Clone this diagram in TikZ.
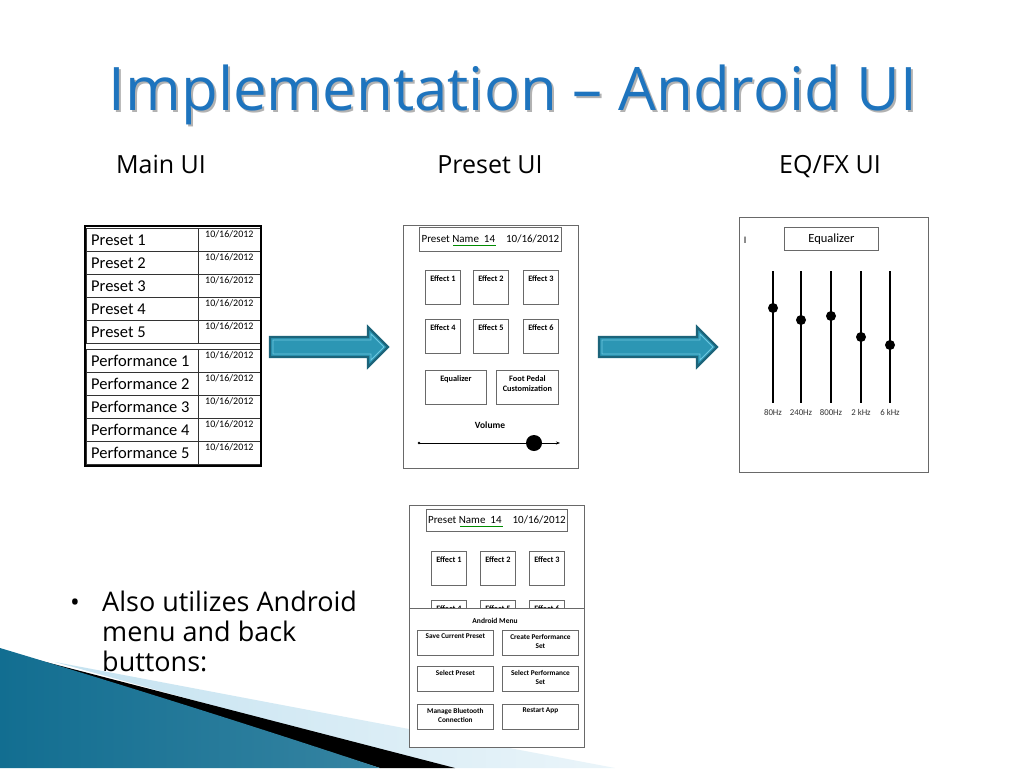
\documentclass[tikz,border=0pt]{standalone}
\usepackage{fontspec}
\setmainfont{Open Sans}
\newfontfamily\calfont{Carlito}
\usetikzlibrary{arrows.meta}
\definecolor{titleblue}{RGB}{30,116,190}
\definecolor{arrowdark}{RGB}{28,100,122}
\definecolor{arrowfill}{RGB}{44,150,180}
\definecolor{arrowlight}{RGB}{110,200,225}
\definecolor{tealdark}{RGB}{18,110,145}
\definecolor{teallight}{RGB}{80,182,218}
\definecolor{paleblue}{RGB}{196,226,240}
\definecolor{uigray}{RGB}{105,105,105}
\tikzset{
  namecell/.style={draw=black!80, line width=0.7, anchor=north west, minimum width=112, minimum height=23, inner sep=0},
  nametext/.style={anchor=west, inner sep=0, xshift=5, font=\calfont\fontsize{16.5}{16.5}\selectfont},
  datecell/.style={draw=black!80, line width=0.7, anchor=north west, minimum width=62, minimum height=23, inner sep=0},
  datetext/.style={anchor=north, inner sep=0, yshift=-2, font=\calfont\fontsize{10}{10}\selectfont},
  panel/.style={draw=uigray, line width=0.9, anchor=north west, inner sep=0},
  uibox/.style={draw=uigray, line width=0.8, anchor=north west, inner sep=0},
  effbox/.style={uibox, minimum width=35, minimum height=34},
  blabel/.style={anchor=north, inner sep=0, yshift=-5, align=center, font=\calfont\bfseries\fontsize{8.3}{10}\selectfont},
  mlabel/.style={anchor=north, inner sep=0, yshift=-4, align=center, font=\calfont\bfseries\fontsize{7.3}{9.5}\selectfont},
  menubtn/.style={uibox, minimum width=76, minimum height=25},
  knob/.style={circle, fill=black, inner sep=0, minimum size=10},
  hzlabel/.style={anchor=base, inner sep=0, text=black!80, font=\calfont\fontsize{8.8}{9}\selectfont},
  subhead/.style={anchor=base, inner sep=0, font=\fontsize{25}{25}\selectfont},
  bullettext/.style={anchor=base west, inner sep=0, font=\fontsize{27}{30}\selectfont},
  bigarrow/.style={fill=arrowfill, draw=arrowdark, line width=2.2, line join=miter},
  innerarrow/.style={draw=arrowlight, line width=0.8, line join=miter}
}
\begin{document}
\begin{tikzpicture}[x=1pt,y=-1pt]
\useasboundingbox (0,0) rectangle (1024,768);
\fill[white] (0,0) rectangle (1024,768);

% bottom-left decoration
\shade[left color=paleblue, right color=paleblue!35] (55,662) -- (615,768) -- (440,768) -- cycle;
\fill[black] (38,660) -- (455,768) -- (380,768) -- cycle;
\shade[left color=tealdark, middle color=teallight, right color=tealdark!85] (0,648) .. controls (120,684) and (260,728) .. (380,768) -- (0,768) -- cycle;

% title
\node[anchor=base, inner sep=0, text=black!30, font=\fontsize{60}{60}\selectfont] at (515,112) {Implementation – Android UI};
\node[anchor=base, inner sep=0, text=titleblue, font=\fontsize{60}{60}\selectfont] (title) at (513,110) {Implementation – Android UI};

% subheadings
\node[subhead] (hmain) at (161,173) {Main UI};
\node[subhead] (hpreset) at (490,173) {Preset UI};
\node[subhead] (heq) at (830,173) {EQ/FX UI};

% Main UI table
\foreach \i/\t in {1/228,2/251,3/274,4/297,5/320}{
  \node[namecell] (pre\i) at (86,\t) {};
  \node[nametext] at (pre\i.west) {Preset \i};
  \node[datecell] (pred\i) at (198,\t) {};
  \node[datetext] at (pred\i.north) {10/16/2012};
}
\foreach \i/\t in {1/349,2/372,3/395,4/418,5/441}{
  \node[namecell] (perf\i) at (86,\t) {};
  \node[nametext] at (perf\i.west) {Performance \i};
  \node[datecell] (perfd\i) at (198,\t) {};
  \node[datetext] at (perfd\i.north) {10/16/2012};
}
\draw[line width=2.2] (85,226) rectangle (261,466);

% arrows
\draw[bigarrow] (270,337) -- (368,337) -- (368,327) -- (388,347) -- (368,367) -- (368,357) -- (270,357) -- cycle;
\draw[innerarrow] (273,340) -- (371,340) -- (371,334) -- (384,347) -- (371,360) -- (371,354) -- (273,354) -- cycle;
\draw[bigarrow] (599,337) -- (697,337) -- (697,327) -- (717,347) -- (697,367) -- (697,357) -- (599,357) -- cycle;
\draw[innerarrow] (602,340) -- (700,340) -- (700,334) -- (713,347) -- (700,360) -- (700,354) -- (602,354) -- cycle;

% Preset UI
\node[panel, minimum width=175, minimum height=243] (pui) at (403,225) {};
\node[uibox, minimum width=142, minimum height=24, font=\calfont\fontsize{11}{11}\selectfont] (phdr) at (419,227) {Preset Name\ \ 14\quad 10/16/2012};
\draw[green!55!black, line width=0.6] (453,245) -- (496,245);
\foreach \n/\x/\y in {1/425/270,2/473/270,3/523/270,4/425/319,5/473/319,6/523/319}{
  \node[effbox] (pe\n) at (\x,\y) {};
  \node[blabel] at (pe\n.north) {Effect \n};
}
\node[uibox, minimum width=61, minimum height=34] (peq) at (425,370) {};
\node[blabel] at (peq.north) {Equalizer};
\node[uibox, minimum width=62, minimum height=34] (pfoot) at (496,370) {};
\node[blabel] at (pfoot.north) {Foot Pedal\\Customization};
\node[anchor=center, inner sep=0, font=\calfont\bfseries\fontsize{9.5}{10}\selectfont] (vol) at (490,425) {Volume};
\coordinate (vl) at (419,443);
\coordinate (vr) at (560,443);
\draw[line width=0.8, -{Stealth[length=4,width=3]}] (vl) -- (vr);
\fill (vl) circle (1.3);
\node[knob, minimum size=16] (vknob) at (534,443) {};

% EQ/FX UI
\node[panel, minimum width=189, minimum height=255] (eqp) at (739,217) {};
\node[anchor=center, inner sep=0, font=\calfont\fontsize{10}{10}\selectfont] (cursor) at (745,240) {I};
\node[uibox, minimum width=94, minimum height=23, font=\calfont\fontsize{12.5}{12.5}\selectfont] (eqh) at (784,227) {Equalizer};
\foreach \n/\x/\k/\lab in {1/773/308/80Hz,2/801/320/240Hz,3/831/316/800Hz,4/861/337/2 kHz,5/890/345/6 kHz}{
  \coordinate (st\n) at (\x,271);
  \coordinate (sb\n) at (\x,403);
  \draw[line width=1.3] (st\n) -- (sb\n);
  \node[knob] (k\n) at (\x,\k) {};
  \node[hzlabel] (hz\n) at (\x,415) {\lab};
}

% Preset UI with Android menu
\node[panel, minimum width=175, minimum height=242] (mp) at (409,505) {};
\node[uibox, minimum width=141, minimum height=22, font=\calfont\fontsize{11}{11}\selectfont] (mhdr) at (426,509) {Preset Name\ \ 14\quad 10/16/2012};
\draw[green!55!black, line width=0.6] (460,526) -- (503,526);
\foreach \n/\x/\y in {1/431/551,2/480/551,3/529/551,4/431/600,5/480/600,6/529/600}{
  \node[effbox] (me\n) at (\x,\y) {};
  \node[blabel] at (me\n.north) {Effect \n};
}
\node[panel, fill=white, minimum width=175, minimum height=139] (menu) at (409,608) {};
\node[anchor=center, inner sep=0, font=\calfont\bfseries\fontsize{7.5}{8}\selectfont] (mtitle) at (495,621) {Android Menu};
\node[menubtn] (b1) at (417,630) {};
\node[mlabel] at (b1.north) {Save Current Preset};
\node[menubtn] (b2) at (502,630) {};
\node[mlabel] at (b2.north) {Create Performance\\Set};
\node[menubtn] (b3) at (417,666) {};
\node[mlabel] at (b3.north) {Select Preset};
\node[menubtn] (b4) at (502,666) {};
\node[mlabel] at (b4.north) {Select Performance\\Set};
\node[menubtn] (b5) at (417,704) {};
\node[mlabel] at (b5.north) {Manage Bluetooth\\Connection};
\node[menubtn] (b6) at (502,704) {};
\node[mlabel] at (b6.north) {Restart App};

% bullet text
\node[anchor=base, inner sep=0, font=\fontsize{26}{26}\selectfont] (bul) at (75,611) {•};
\node[bullettext] (l1) at (102,611) {Also utilizes Android};
\node[bullettext] (l2) at (102,641) {menu and back};
\node[bullettext] (l3) at (102,671) {buttons:};
\end{tikzpicture}
\end{document}
